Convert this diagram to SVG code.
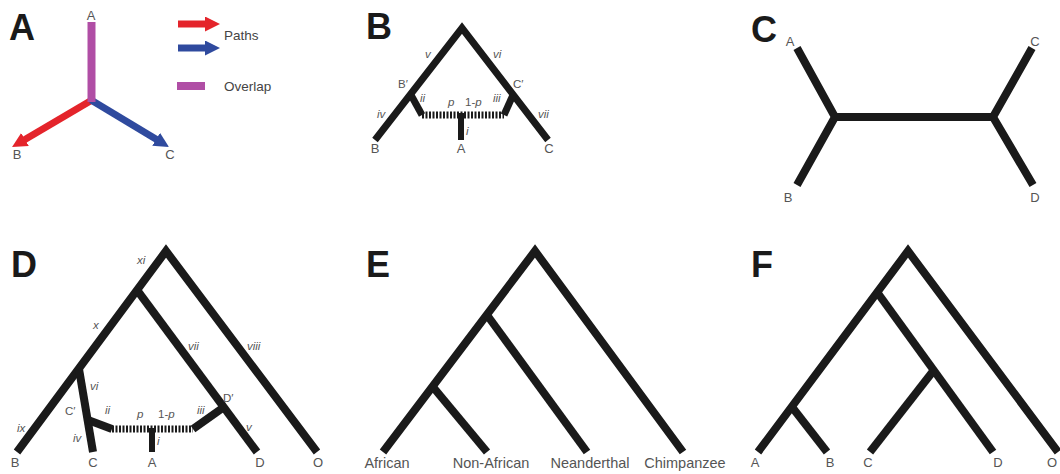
<svg xmlns="http://www.w3.org/2000/svg" width="1060" height="474" viewBox="0 0 1060 474">
<style>
  .panel { font-family: "Liberation Sans", Arial, sans-serif; font-weight: bold; font-size: 36px; fill: #1a1a1a; }
  .tip { font-family: "Liberation Sans", Arial, sans-serif; font-size: 13px; fill: #555; text-anchor: middle; }
  .big { font-size: 14.5px; }
  .lab { font-family: "Liberation Sans", Arial, sans-serif; font-size: 11.5px; fill: #555; font-style: italic; }
  .reg { font-style: normal; }
  .leg { font-family: "Liberation Sans", Arial, sans-serif; font-size: 13.5px; fill: #444; }
  .br { fill: none; stroke: #1a1a1a; stroke-width: 8; stroke-linejoin: miter; stroke-linecap: butt; }
  .brB { fill: none; stroke: #1a1a1a; stroke-width: 7; stroke-linejoin: miter; stroke-linecap: butt; }
  .dash { fill: none; stroke: #1a1a1a; stroke-dasharray: 2 1.5; stroke-linecap: butt; }
  .red { stroke: #e4242b; stroke-width: 7; fill: none; }
  .blue { stroke: #2f4a9e; stroke-width: 7; fill: none; }
</style>
<defs>
  <marker id="hr" markerUnits="userSpaceOnUse" markerWidth="15" markerHeight="15" viewBox="0 0 10 10" refX="2" refY="5" orient="auto">
    <path d="M0,0 L10,5 L0,10 z" fill="#e4242b"/>
  </marker>
  <marker id="hb" markerUnits="userSpaceOnUse" markerWidth="15" markerHeight="15" viewBox="0 0 10 10" refX="2" refY="5" orient="auto">
    <path d="M0,0 L10,5 L0,10 z" fill="#2f4a9e"/>
  </marker>
</defs>

<!-- Panel A -->
<g id="panelA">
  <text class="panel" x="9" y="40">A</text>
  <g id="A-paths">
    <line class="red" x1="92" y1="100" x2="22.4" y2="141" marker-end="url(#hr)"/>
    <line class="blue" x1="91" y1="100" x2="158.7" y2="140.8" marker-end="url(#hb)"/>
    <line x1="91.5" y1="22" x2="91.5" y2="102" stroke="#b04ea5" stroke-width="8"/>
  </g>
  <text class="tip" x="91" y="20">A</text>
  <text class="tip" x="17" y="159">B</text>
  <text class="tip" x="170" y="159">C</text>
  <g id="legend">
    <line class="red" x1="178" y1="24" x2="208" y2="24" marker-end="url(#hr)"/>
    <line class="blue" x1="178" y1="48" x2="208" y2="48" marker-end="url(#hb)"/>
    <rect x="177" y="82" width="28" height="8" fill="#b04ea5"/>
    <text class="leg" x="224" y="40">Paths</text>
    <text class="leg" x="224" y="91">Overlap</text>
  </g>
</g>

<!-- Panel B -->
<g id="panelB">
  <text class="panel" x="366" y="39">B</text>
  <g id="B-connectors">
    <polyline class="brB" points="375,140 462,28 548,140"/>
    <polyline class="brB" points="411,95 422,115"/>
    <polyline class="brB" points="513,95 504,115"/>
    <line class="dash" x1="422" y1="115" x2="504" y2="115" stroke-width="7"/>
    <line x1="461" y1="113" x2="461" y2="140" stroke="#1a1a1a" stroke-width="6"/>
  </g>
  <text class="tip" x="375" y="153">B</text>
  <text class="tip" x="461" y="153">A</text>
  <text class="tip" x="549" y="153">C</text>
  <text class="lab" x="425" y="58">v</text>
  <text class="lab" x="493" y="58">vi</text>
  <text class="lab reg" x="398" y="88">B′</text>
  <text class="lab reg" x="513" y="88">C′</text>
  <text class="lab" x="420" y="102">ii</text>
  <text class="lab" x="448" y="106">p</text>
  <text class="lab" x="465" y="106"><tspan class="reg">1-</tspan>p</text>
  <text class="lab" x="493" y="102">iii</text>
  <text class="lab" x="377" y="118">iv</text>
  <text class="lab" x="538" y="118">vii</text>
  <text class="lab" x="466" y="135">i</text>
</g>

<!-- Panel C -->
<g id="panelC">
  <text class="panel" x="751" y="42">C</text>
  <g id="C-connectors">
    <polyline class="br" points="797,48 835,117 797,185"/>
    <line class="br" x1="835" y1="117" x2="993" y2="117"/>
    <polyline class="br" points="1032,48 993,117 1033,185"/>
  </g>
  <text class="tip" x="790" y="46">A</text>
  <text class="tip" x="788" y="202">B</text>
  <text class="tip" x="1035" y="46">C</text>
  <text class="tip" x="1035" y="202">D</text>
</g>

<!-- Panel D -->
<g id="panelD">
  <text class="panel" x="11" y="277">D</text>
  <g id="D-connectors">
    <polyline class="br" points="17,452 166,251 317,452"/>
    <line class="br" x1="137" y1="290" x2="257" y2="452"/>
    <line class="br" x1="79" y1="369" x2="93" y2="452"/>
    <line class="br" x1="88" y1="420" x2="112" y2="429"/>
    <line class="dash" x1="112" y1="429" x2="193" y2="429" stroke-width="7"/>
    <line class="br" x1="193" y1="429" x2="224" y2="407"/>
    <line x1="152" y1="428" x2="152" y2="452" stroke="#1a1a1a" stroke-width="6"/>
  </g>
  <text class="tip" x="15" y="467">B</text>
  <text class="tip" x="93" y="467">C</text>
  <text class="tip" x="152" y="467">A</text>
  <text class="tip" x="260" y="467">D</text>
  <text class="tip" x="318" y="467">O</text>
  <text class="lab" x="137" y="264">xi</text>
  <text class="lab" x="93" y="329">x</text>
  <text class="lab" x="188" y="350">vii</text>
  <text class="lab" x="247" y="350">viii</text>
  <text class="lab" x="90" y="390">vi</text>
  <text class="lab reg" x="65" y="415">C′</text>
  <text class="lab" x="105" y="414">ii</text>
  <text class="lab" x="137" y="418">p</text>
  <text class="lab" x="158" y="418"><tspan class="reg">1-</tspan>p</text>
  <text class="lab" x="197" y="414">iii</text>
  <text class="lab reg" x="223" y="402">D′</text>
  <text class="lab" x="17" y="432">ix</text>
  <text class="lab" x="73" y="442">iv</text>
  <text class="lab" x="246" y="431">v</text>
  <text class="lab" x="157" y="445">i</text>
</g>

<!-- Panel E -->
<g id="panelE">
  <text class="panel" x="366" y="277">E</text>
  <g id="E-connectors">
    <polyline class="br" points="383,452 535,251 683,452"/>
    <line class="br" x1="487" y1="315" x2="587" y2="452"/>
    <line class="br" x1="433" y1="387" x2="487" y2="452"/>
  </g>
  <text class="tip big" x="387" y="468">African</text>
  <text class="tip big" x="491" y="468">Non-African</text>
  <text class="tip big" x="590" y="468">Neanderthal</text>
  <text class="tip big" x="685" y="468">Chimpanzee</text>
</g>

<!-- Panel F -->
<g id="panelF">
  <text class="panel" x="751" y="277">F</text>
  <g id="F-connectors">
    <polyline class="br" points="758,452 908,251 1058,452"/>
    <line class="br" x1="877" y1="292" x2="993" y2="452"/>
    <line class="br" x1="934" y1="370" x2="870" y2="452"/>
    <line class="br" x1="792" y1="407" x2="827" y2="452"/>
  </g>
  <text class="tip" x="755" y="467">A</text>
  <text class="tip" x="830" y="467">B</text>
  <text class="tip" x="868" y="467">C</text>
  <text class="tip" x="998" y="467">D</text>
  <text class="tip" x="1052" y="467">O</text>
</g>
</svg>
